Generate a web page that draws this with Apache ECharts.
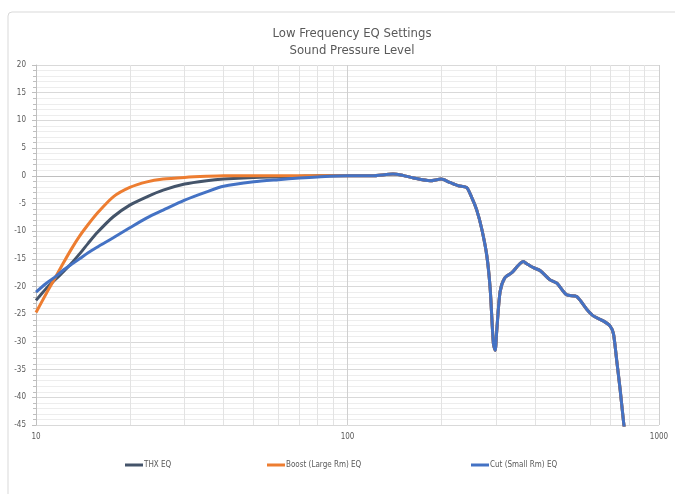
<!DOCTYPE html>
<html>
<head>
<meta charset="utf-8">
<script src="https://cdn.jsdelivr.net/npm/echarts@6/dist/echarts.min.js"></script>
<style>
html,body{margin:0;padding:0;background:#fff;}
#chart{width:675px;height:494px;}
</style>
</head>
<body>
<div id="chart"></div>
<script>
// ---- data ----
const titleLines = ['Low Frequency EQ Settings', 'Sound Pressure Level'];
const seriesNames = ['THX EQ', 'Boost (Large Rm) EQ', 'Cut (Small Rm) EQ'];
const yTicks = { min: -45, max: 20, step: 5 };
const xTicks = { min: 10, max: 1000 };
const minorFreqs = [20, 30, 40, 50, 60, 70, 80, 90, 200, 300, 400, 500, 600, 700, 800, 900];

// low-frequency part (differs per EQ)
const freqLow  = [10, 10.8, 11.5, 12.2, 13, 13.8, 14.7, 15.7, 17.7, 20, 22.7, 25.6, 30, 35.3, 40, 50, 60, 70, 80, 100];
const thxLow   = [-22.5, -20.3, -18.8, -17.4, -15.8, -14.1, -12.2, -10.3, -7.4, -5.3, -3.8, -2.6, -1.5, -0.9, -0.6, -0.3, -0.2, -0.1, 0, 0];
const boostLow = [-24.7, -21.2, -18.5, -15.9, -13.2, -10.9, -8.8, -6.8, -3.8, -2.1, -1.1, -0.6, -0.3, -0.1, 0, 0, 0, 0, 0, 0];
const cutLow   = [-21.0, -19.4, -18.3, -17.1, -16.0, -15.0, -13.9, -12.9, -11.2, -9.4, -7.6, -6.2, -4.4, -2.9, -1.9, -1.1, -0.7, -0.4, -0.2, 0];

// high-frequency part (shared by all EQs)
const freqHigh  = [120, 140, 147, 163, 184, 200, 213, 227, 241, 250, 260, 270, 280, 287, 294, 298, 301, 309, 320, 337, 353, 367, 376, 395, 415, 447, 470, 505, 544, 586, 615, 662, 696, 714, 731, 750, 769, 790];
const levelHigh = [0, 0.3, 0.2, -0.4, -0.9, -0.6, -1.2, -1.8, -2.1, -3.8, -6.2, -9.7, -14.4, -20.3, -30.3, -31.5, -28.4, -20.9, -18.4, -17.5, -16.2, -15.5, -15.9, -16.6, -17.1, -18.8, -19.4, -21.5, -21.8, -24.1, -25.3, -26.2, -27.1, -28.5, -33.2, -38.5, -44.3, -50];

const colors = ['#44546a', '#ed7d31', '#4472c4'];
const lowSets = [thxLow, boostLow, cutLow];

function build(low) {
  const out = freqLow.map((f, i) => [f, low[i]]);
  freqHigh.forEach((f, i) => out.push([f, levelHigh[i]]));
  return out;
}

const FONT = '"Liberation Sans Narrow", "DejaVu Sans Condensed", "Liberation Sans", sans-serif';
const chart = echarts.init(document.getElementById('chart'), null, { renderer: 'canvas' });

const series = seriesNames.map((name, k) => ({
  name: name,
  type: 'line',
  data: build(lowSets[k]),
  showSymbol: false,
  smooth: 0.25,
  clip: true,
  lineStyle: { color: colors[k], width: 3 },
  itemStyle: { color: colors[k] },
  z: 3 + k
}));
// minor vertical gridlines through the log axis
series[0].markLine = {
  silent: true,
  symbol: ['none', 'none'],
  label: { show: false },
  lineStyle: { color: '#e3e3e3', width: 1, type: 'solid' },
  data: minorFreqs.map(f => ({ xAxis: f })),
  z: 1
};

const legendLefts = [120, 262, 466];

chart.setOption({
  animation: false,
  backgroundColor: '#ffffff',
  textStyle: { fontFamily: FONT },
  graphic: [{
    type: 'rect',
    shape: { x: 8, y: 12, width: 720, height: 520, r: 4 },
    style: { fill: 'none', stroke: '#d9d9d9', lineWidth: 1 },
    z: -10, silent: true
  }],
  title: {
    text: titleLines.join('\n'),
    left: 347,
    top: 20,
    textAlign: 'center',
    textStyle: { fontFamily: FONT, fontSize: 13, fontWeight: 'normal', color: '#595959', lineHeight: 17 }
  },
  legend: legendLefts.map((l, k) => ({
    data: [seriesNames[k]],
    left: l,
    top: 456,
    icon: 'rect',
    itemWidth: 18,
    itemHeight: 3,
    itemGap: 2,
    textStyle: { fontFamily: FONT, fontSize: 8, color: '#595959', padding: [0, 0, 0, -4] }
  })),
  grid: { left: 36, right: 16, top: 65, bottom: 69, containLabel: false },
  xAxis: {
    type: 'log',
    logBase: 10,
    min: xTicks.min,
    max: xTicks.max,
    axisLine: { show: true, lineStyle: { color: '#bfbfbf', width: 1 } },
    axisTick: { show: true, length: 4, lineStyle: { color: '#bfbfbf' } },
    axisLabel: { fontFamily: FONT, fontSize: 8, color: '#595959', margin: 8, formatter: v => String(Math.round(v)) },
    splitLine: { show: true, lineStyle: { color: '#d0d0d0', width: 1 } },
    minorTick: { show: false },
    minorSplitLine: { show: false }
  },
  yAxis: {
    type: 'value',
    min: yTicks.min,
    max: yTicks.max,
    interval: yTicks.step,
    axisLine: { show: true, lineStyle: { color: '#bfbfbf', width: 1 } },
    axisTick: { show: true, length: 4, lineStyle: { color: '#bfbfbf' } },
    minorTick: { show: true, splitNumber: 5, length: 3, lineStyle: { color: '#bfbfbf' } },
    axisLabel: { fontFamily: FONT, fontSize: 8, color: '#595959', margin: 10 },
    splitLine: { show: true, lineStyle: { color: '#d9d9d9', width: 1 } },
    minorSplitLine: { show: true, lineStyle: { color: '#ededed', width: 1 } }
  },
  series: series
});
</script>
</body>
</html>
